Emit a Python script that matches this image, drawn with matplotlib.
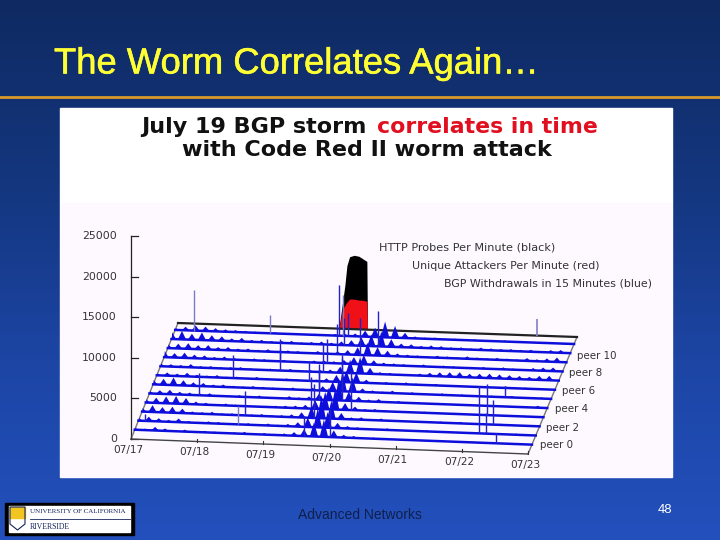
import numpy as np
import matplotlib
matplotlib.use("Agg")
import matplotlib.pyplot as plt
import matplotlib.patheffects as pe
from matplotlib.colors import LinearSegmentedColormap
from matplotlib.patches import Polygon, Rectangle

# data
y_ticks = [0, 5000, 10000, 15000, 20000, 25000]
dates = ["07/17", "07/18", "07/19", "07/20", "07/21", "07/22", "07/23"]
peer_labels = ["peer 0", "peer 2", "peer 4", "peer 6", "peer 8", "peer 10"]

# probes and attackers sit on the back edge, time in days after 07/17
worm_t = [2.42, 2.47, 2.51, 2.54, 2.58, 2.65, 2.72, 2.78, 2.84, 2.85]
worm_black = [0, 3000, 5400, 7800, 8900, 9100, 9000, 8700, 8400, 0]
worm_red = [0, 2300, 2900, 3300, 3700, 3700, 3600, 3600, 3500, 0]

# withdrawals per peer, one value for every 0.15 day
peer_noise = [
    [300, 250, 500, 350, 200, 300, 150, 250, 200, 150, 200, 300, 150, 250, 200, 300, 500, 900, 1800, 2200, 900, 400, 300, 150, 200, 100, 150, 100, 200, 150, 100, 150, 100, 200, 150, 100, 150, 100, 100, 150],
    [400, 600, 450, 300, 500, 250, 200, 300, 250, 150, 200, 250, 200, 300, 200, 350, 600, 1200, 2400, 2000, 700, 350, 250, 200, 150, 250, 150, 100, 150, 200, 150, 100, 150, 100, 150, 200, 100, 150, 200, 100],
    [500, 900, 700, 800, 600, 300, 250, 350, 200, 250, 150, 200, 300, 200, 250, 400, 700, 1500, 2900, 2300, 800, 300, 350, 200, 300, 150, 200, 150, 100, 150, 200, 100, 250, 100, 150, 100, 200, 150, 100, 150],
    [450, 700, 900, 1000, 800, 400, 300, 200, 300, 200, 250, 150, 200, 250, 300, 350, 500, 1100, 2200, 2600, 900, 500, 250, 300, 200, 150, 200, 100, 200, 150, 100, 200, 100, 150, 200, 150, 100, 200, 150, 100],
    [350, 500, 600, 400, 350, 300, 350, 200, 150, 250, 200, 300, 150, 200, 350, 250, 400, 800, 1600, 2800, 1200, 600, 300, 400, 200, 250, 150, 200, 150, 200, 100, 150, 200, 100, 150, 200, 150, 100, 150, 300],
    [600, 800, 1000, 700, 500, 450, 300, 350, 250, 200, 300, 250, 200, 150, 300, 200, 350, 600, 1200, 2500, 1800, 500, 300, 200, 350, 150, 250, 200, 150, 250, 150, 200, 150, 100, 200, 150, 250, 100, 150, 200],
    [300, 450, 350, 500, 300, 250, 350, 200, 250, 150, 300, 200, 150, 250, 200, 150, 250, 450, 900, 1500, 1300, 450, 200, 250, 150, 300, 200, 100, 250, 150, 200, 100, 200, 150, 100, 250, 150, 200, 150, 100],
    [400, 350, 300, 450, 250, 300, 200, 250, 300, 200, 150, 250, 200, 300, 150, 250, 300, 400, 800, 1700, 2100, 800, 300, 250, 200, 150, 300, 450, 550, 600, 650, 500, 550, 600, 550, 500, 450, 400, 550, 600],
    [800, 600, 700, 500, 450, 300, 400, 250, 200, 300, 250, 200, 250, 150, 200, 300, 350, 300, 500, 900, 1200, 600, 350, 300, 250, 200, 300, 150, 250, 200, 150, 200, 250, 150, 300, 200, 150, 350, 450, 500],
    [500, 650, 750, 550, 600, 400, 450, 300, 350, 250, 350, 200, 300, 250, 200, 350, 250, 400, 600, 1000, 1600, 1100, 700, 400, 300, 250, 200, 300, 250, 200, 350, 250, 200, 300, 250, 200, 400, 300, 450, 600],
    [900, 1100, 800, 1000, 700, 600, 400, 500, 300, 350, 250, 300, 350, 200, 300, 400, 300, 500, 700, 1100, 1500, 1900, 1000, 500, 450, 300, 400, 350, 250, 300, 200, 350, 300, 250, 300, 250, 300, 200, 350, 400],
    [300, 500, 700, 600, 450, 350, 300, 250, 200, 150, 200, 150, 100, 150, 200, 150, 250, 300, 400, 800, 1200, 2000, 1500, 700, 300, 200, 250, 150, 200, 150, 200, 150, 100, 200, 150, 100, 150, 200, 100, 150],
]

# single tall withdrawal spikes: peer, time, height
spike_peer = [0, 0, 1, 1, 1, 2, 2, 3, 3, 4, 4, 5, 5, 6, 6, 7, 7, 8, 8, 9, 9, 10, 10, 11, 11, 11, 11, 11, 1, 2, 3, 5, 0, 4]
spike_t = [2.55, 2.95, 1.5, 5.15, 5.25, 1.55, 2.6, 2.5, 3.1, 2.55, 2.9, 2.5, 2.85, 1.15, 2.3, 1.8, 2.45, 1.75, 2.45, 2.55, 2.9, 2.6, 3.1, 0.29, 1.42, 2.47, 2.53, 2.6, 0.1, 5.3, 5.15, 5.3, 5.45, 0.75]
spike_h = [2500, 3500, 2300, 5800, 2600, 3000, 4200, 3900, 4800, 3600, 5200, 3200, 4500, 2900, 2400, 2600, 3500, 2700, 3000, 3700, 4600, 3300, 4300, 5000, 2300, 6300, 5000, 2800, 900, 3000, 3800, 1400, 1300, 2800]
back_spike_t = [5.4]
back_spike_h = [2000]

# corners of the floor in figure pixels
front_l, front_r = np.array([131.0, 439.0]), np.array([528.0, 454.0])
back_l, back_r = np.array([178.0, 323.0]), np.array([577.0, 337.0])
z_scale = 203.0 / 25000
blue = "#0e0edc"


def project(t, depth, z=0.0):
    t = np.asarray(t, dtype=float) / 6.0
    front_x = front_l[0] + (front_r[0] - front_l[0]) * t
    front_y = front_l[1] + (front_r[1] - front_l[1]) * t
    back_x = back_l[0] + (back_r[0] - back_l[0]) * t
    back_y = back_l[1] + (back_r[1] - back_l[1]) * t
    x = front_x + (back_x - front_x) * depth
    y = front_y + (back_y - front_y) * depth - np.asarray(z) * z_scale
    return x, y


def peer_depth(p):
    return 0.08 + 0.0782 * p


fig = plt.figure(figsize=(7.2, 5.4), dpi=100)
ax = fig.add_axes([0, 0, 1, 1])
ax.axis("off")

# slide background
bg = LinearSegmentedColormap.from_list("bg", ["#0f2a62", "#14367e", "#1c45a4", "#2350bd"])
ax.imshow(np.linspace(0, 1, 256).reshape(-1, 1), cmap=bg, extent=[0, 720, 540, 0], aspect="auto", zorder=0)
ax.set_xlim(0, 720)
ax.set_ylim(540, 0)
ax.plot([0, 720], [97, 97], color="#d99a2b", lw=2, zorder=1)
title = ax.text(54, 64, "The Worm Correlates Again…", color="#ffff33", fontsize=26.2, family="Liberation Sans", va="center", zorder=2)
title.set_path_effects([pe.withStroke(linewidth=0.4, foreground="#ffff33")])

# chart panel
ax.add_patch(Rectangle((60, 108), 612, 95, color="white", zorder=1))
ax.add_patch(Rectangle((60, 203), 612, 274, color="#fdf9ff", zorder=1))
ax.text(141, 127, "July 19 BGP storm", fontsize=16, fontweight="bold", color="#111111", va="center", zorder=2)
ax.text(377, 127, "correlates in time", fontsize=15.8, fontweight="bold", color="#e01020", va="center", zorder=2)
ax.text(182, 150, "with Code Red II worm attack", fontsize=16, fontweight="bold", color="#111111", va="center", zorder=2)

# vertical axis
ax.plot([131, 131], [439, 236], color="#222222", lw=0.9, zorder=3)
for v in y_ticks:
    yy = 439 - v * z_scale
    ax.plot([131, 138], [yy, yy], color="#222222", lw=0.9, zorder=3)
    ax.text(117, yy, str(v), ha="right", va="center", fontsize=7.8, color="#333333", zorder=3)

# worm curves stand behind everything
wx, wy0 = project(worm_t, 1.0)
_, wy1 = project(worm_t, 1.0, worm_black)
_, wy2 = project(worm_t, 1.0, worm_red)
ax.fill_between(wx, wy0, wy1, color="black", lw=0, zorder=3)
ax.fill_between(wx, wy0, wy2, color="#f01018", lw=0, zorder=4)

# floor edges
ax.plot([front_l[0], back_l[0]], [front_l[1], back_l[1]], color="#777777", lw=1, zorder=4)
ax.plot([front_r[0], back_r[0]], [front_r[1], back_r[1]], color="#777777", lw=1, zorder=4)
ax.plot([front_l[0], front_r[0]], [front_l[1], front_r[1]], color="#444444", lw=1, zorder=4)
ax.plot([back_l[0], back_r[0]], [back_l[1], back_r[1]], color="#222222", lw=1.6, zorder=4)

sx, sy = project(back_spike_t, 1.0)
_, st = project(back_spike_t, 1.0, back_spike_h)
ax.vlines(sx, st, sy, color="#8080c8", lw=1.2, zorder=4)

# peers, from the back to the front
for p in range(11, -1, -1):
    z = 5 + (11 - p) * 0.1
    d = peer_depth(p)
    noise_t = np.arange(len(peer_noise[p])) * 0.15
    # every value is a narrow tooth standing on the row
    tooth_t = np.column_stack([noise_t - 0.065, noise_t, noise_t + 0.065]).ravel()
    tooth_z = np.column_stack([np.zeros(len(noise_t)), peer_noise[p], np.zeros(len(noise_t))]).ravel()
    keep = tooth_t >= 0
    bx, by = project(tooth_t[keep], d)
    _, ty = project(tooth_t[keep], d, tooth_z[keep])
    ax.fill_between(bx, by, ty, color=blue, lw=0, zorder=z)
    ax.plot([project(0, d)[0], project(6, d)[0]], [project(0, d)[1], project(6, d)[1]], color=blue, lw=1.8, zorder=z)
    for q, t, h in zip(spike_peer, spike_t, spike_h):
        if q == p:
            x0, y0 = project(t, d)
            _, y1 = project(t, d, h)
            col = "#7c7cc4" if h == 5000 or h == 2300 else "#2222cc"
            ax.vlines(x0, y1, y0, color=col, lw=1.0, zorder=z)

# date ticks and peer labels
for i, lab in enumerate(dates):
    x0, y0 = project(i, 0.0)
    ax.plot([x0, x0], [y0, y0 - 3], color="#333333", lw=0.8, zorder=6)
    ax.text(x0 - 3, y0 + 11, lab, ha="center", va="center", fontsize=7.6, color="#333333", zorder=6)
peer_x = [556, 563, 572, 579, 586, 597]
peer_y = [445, 428, 409, 391, 373, 356]
for lab, x0, y0 in zip(peer_labels, peer_x, peer_y):
    ax.text(x0, y0, lab, ha="center", va="center", fontsize=7.4, color="#333333", zorder=6)

# legend lines
ax.text(379, 248, "HTTP Probes Per Minute (black)", fontsize=8.1, color="#333333", va="center", zorder=6)
ax.text(412, 266, "Unique Attackers Per Minute (red)", fontsize=7.9, color="#333333", va="center", zorder=6)
ax.text(444, 283, "BGP Withdrawals in 15 Minutes (blue)", fontsize=7.9, color="#333333", va="center", zorder=6)

# footer
ax.text(298, 515, "Advanced Networks", fontsize=10, family="Liberation Sans", color="#10204a", va="center", zorder=2)
ax.text(658, 510, "48", fontsize=9.4, family="Liberation Sans", color="white", va="center", zorder=2)

# university logo
ax.add_patch(Rectangle((5, 503), 129, 32, color="black", zorder=2))
ax.add_patch(Rectangle((9, 506), 121, 26, color="white", zorder=3))
ax.add_patch(Polygon([[10, 507], [25, 507], [25, 518], [10, 518]], color="#f2c522", zorder=4))
ax.add_patch(Polygon([[10, 507], [25, 507], [25, 524], [17.5, 530], [10, 524]], fill=False, ec="#14245c", lw=0.8, zorder=5))
ax.plot([30, 130], [518.5, 518.5], color="#14245c", lw=0.6, zorder=4)
ax.text(30, 511.5, "UNIVERSITY OF CALIFORNIA", fontsize=5.0, family="Liberation Serif", color="#14245c", va="center", zorder=4)
ax.text(30, 527, "RIVERSIDE", fontsize=5.6, family="Liberation Serif", color="#14245c", va="center", zorder=4)

fig.savefig("out.png", dpi=100)
